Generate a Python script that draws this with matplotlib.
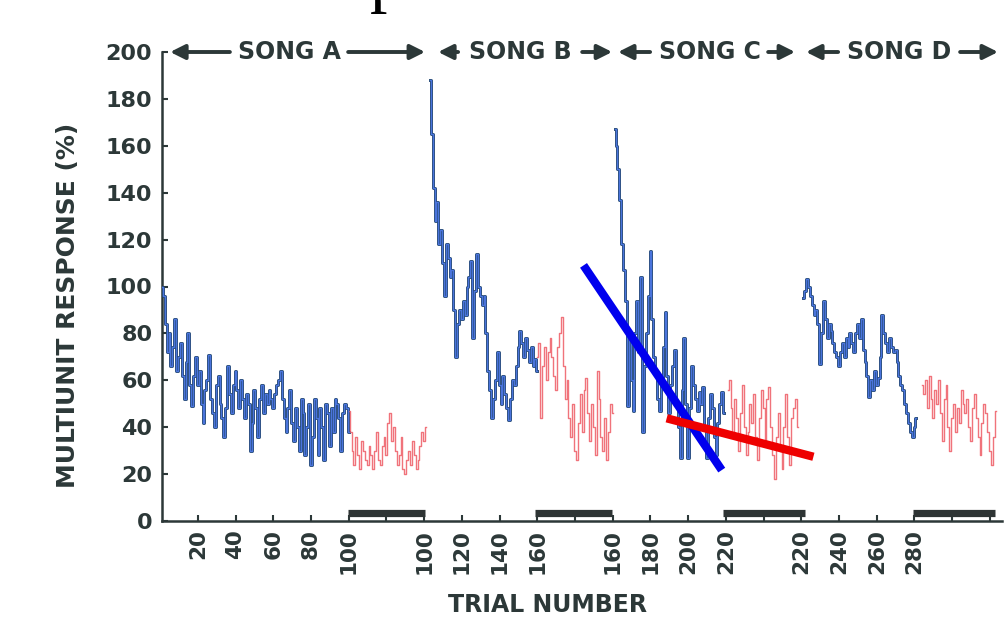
import numpy as np
import matplotlib
matplotlib.use("Agg")
import matplotlib.pyplot as plt

# ---------------- data ----------------
# blue = response during song presentation, red = interleaved silent blocks
song_a = [100, 96, 84, 72, 80, 66, 74, 86, 64, 70,
          76, 62, 52, 68, 80, 58, 49, 62, 70, 58,
          64, 50, 42, 56, 60, 71, 52, 46, 40, 58,
          62, 50, 44, 36, 48, 66, 54, 46, 58, 64,
          56, 48, 60, 52, 44, 54, 50, 30, 42, 56,
          48, 36, 52, 58, 46, 54, 50, 56, 52, 48,
          54, 58, 60, 64, 52, 44, 38, 48, 56, 42,
          34, 48, 40, 30, 52, 46, 28, 40, 50, 24,
          36, 52, 44, 28, 48, 40, 26, 50, 46, 32,
          48, 38, 52, 50, 44, 30, 46, 50, 48, 38]
silent_a = [47, 38, 30, 24, 36, 28, 22, 34, 30, 26, 24, 32, 28, 22, 30, 38,
            26, 24, 32, 36, 28, 42, 46, 34, 40, 30, 24, 28, 36, 22, 20, 26,
            30, 24, 34, 28, 22, 26, 32, 38, 34, 40]
song_b = [188, 165, 142, 128, 136, 118, 124, 110, 96, 118, 112, 104, 107, 90,
          70, 84, 90, 86, 94, 88, 100, 104, 111, 78, 98, 114, 100, 96, 92, 96,
          80, 64, 56, 44, 52, 60, 72, 58, 50, 62, 54, 48, 43, 52, 60, 58, 66,
          74, 81, 76, 70, 78, 73, 68, 74, 66, 69, 64]
silent_b = [70, 76, 44, 66, 74, 60, 72, 78, 70, 62, 56, 74, 80, 87, 66, 52,
            60, 44, 36, 50, 30, 26, 42, 54, 38, 56, 61, 46, 34, 50, 40, 28,
            64, 52, 36, 30, 44, 26, 38, 50, 46]
song_c = [167, 160, 150, 137, 118, 107, 94, 49, 78, 60, 47, 80, 94, 72, 104,
          38, 66, 80, 96, 115, 86, 70, 63, 52, 47, 60, 74, 89, 62, 46, 58, 66,
          73, 50, 40, 27, 56, 78, 50, 27, 48, 66, 58, 52, 47, 55, 50, 57, 40,
          27, 44, 54, 48, 36, 28, 42, 50, 55, 46]
silent_c = [56, 60, 48, 36, 52, 44, 30, 46, 58, 40, 28, 38, 50, 42, 54, 36,
            26, 44, 56, 48, 34, 52, 57, 40, 28, 18, 36, 46, 30, 22, 40, 54,
            36, 24, 44, 48, 52, 40]
song_d = [95, 98, 103, 100, 96, 92, 88, 90, 84, 67, 80, 94, 86, 78, 84, 81,
          76, 72, 70, 66, 72, 76, 70, 78, 74, 80, 76, 72, 80, 84, 78, 86, 73,
          68, 62, 53, 60, 56, 64, 58, 61, 70, 88, 80, 76, 72, 78, 74, 72, 73,
          68, 62, 58, 56, 50, 46, 42, 38, 36, 40, 44]
silent_d = [58, 54, 60, 48, 62, 52, 44, 56, 50, 60, 46, 34, 52, 58, 40, 30,
            44, 50, 38, 48, 42, 56, 50, 46, 52, 40, 34, 48, 54, 44, 36, 28,
            42, 50, 46, 38, 30, 24, 36, 47]

# start position (plot units) of each block on the concatenated axis
song_starts = [1, 143, 241, 341]
silent_starts = [100, 200, 301, 404]

# regression lines drawn over song C: (x0, y0, x1, y1)
fit_blue = [224.5, 109, 297.8, 21.7]
fit_red = [268.6, 43.8, 346.4, 27.4]

# silent-block bars at the bottom
silent_spans = [(99.5, 140.5), (199, 239.7), (298.5, 342), (399, 442.7)]

tick_pos = [20, 40, 60, 80, 100, 120, 140, 160, 180, 200, 220,
            240, 260, 280, 300, 320, 340, 360, 380, 400, 420, 440]
tick_labels = ["20", "40", "60", "80", "100", "", "100", "120", "140", "160", "",
               "160", "180", "200", "220", "", "220", "240", "260", "280", "", ""]

song_names = ["SONG A", "SONG B", "SONG C", "SONG D"]
song_text_x = [68.4, 191, 291.6, 392]
song_arrows = [(37, 5.3, 99.7, 140.5), (158, 147.4, 223.8, 239.7),
               (259.8, 242.8, 322.4, 336.7), (359.5, 342.5, 424.2, 444.3)]

# ---------------- figure ----------------
dark = "#2c3838"
fig = plt.figure(figsize=(10.07, 6.25), dpi=100)
ax = fig.add_axes([162 / 1007, 104 / 625, (1002 - 162) / 1007, 469 / 625])
ax.set_xlim(1, 446.4)
ax.set_ylim(0, 200)

for vals, st in zip([song_a, song_b, song_c, song_d], song_starts):
    x = st + np.arange(len(vals))
    ax.plot(x, vals, color="#22466e", lw=2.1, drawstyle="steps-mid", zorder=3)
    ax.plot(x, vals, color="#4a74dc", lw=1.0, drawstyle="steps-mid", zorder=4)

for vals, st in zip([silent_a, silent_b, silent_c, silent_d], silent_starts):
    x = st + np.arange(len(vals))
    ax.plot(x, vals, color="#ee5a64", lw=1.0, alpha=0.85,
            drawstyle="steps-mid", zorder=3)

ax.plot(fit_blue[0::2], fit_blue[1::2], color="#0000ee", lw=6,
        solid_capstyle="butt", zorder=6)
ax.plot(fit_red[0::2], fit_red[1::2], color="#ee0000", lw=6,
        solid_capstyle="butt", zorder=6)

for a, b in silent_spans:
    ax.plot([a, b], [3.3, 3.3], color="#2e3434", lw=5.2,
            solid_capstyle="butt", zorder=5)

# spines / ticks
for s in ["top", "right"]:
    ax.spines[s].set_visible(False)
for s in ["left", "bottom"]:
    ax.spines[s].set_color(dark)
    ax.spines[s].set_linewidth(1.8)

ax.set_yticks(np.arange(0, 201, 20))
ax.set_xticks(tick_pos)
ax.set_xticklabels(tick_labels, rotation=90)
ax.tick_params(axis="both", direction="in", length=4, width=1.5, color=dark,
               labelcolor=dark)
ax.tick_params(axis="y", pad=7, labelsize=16)
ax.tick_params(axis="x", pad=6, labelsize=15.5)
for lab in ax.get_xticklabels() + ax.get_yticklabels():
    lab.set_fontweight("bold")

# song labels with arrows along the top
for name, tx, (la0, la1, ra0, ra1) in zip(song_names, song_text_x, song_arrows):
    ax.text(tx, 200, name, ha="center", va="center", fontsize=17,
            fontweight="bold", color=dark, clip_on=False)
    for x0, x1 in [(la0, la1), (ra0, ra1)]:
        ax.annotate("", xy=(x1, 200), xytext=(x0, 200), annotation_clip=False,
                    arrowprops=dict(arrowstyle="-|>", color=dark, lw=2.8,
                                    mutation_scale=22, shrinkA=0, shrinkB=0))

fig.text(548 / 1007, 1 - 605 / 625, "TRIAL NUMBER", ha="center", va="center",
         fontsize=17, fontweight="bold", color=dark)
fig.text(68 / 1007, 1 - 305 / 625, "MULTIUNIT RESPONSE (%)", ha="center",
         va="center", rotation=90, fontsize=18, fontweight="bold", color=dark)

# descender of a cut-off title at the very top (only its tail is visible)
fig.text(387 / 1007, 1 + 1 / 625, "p", ha="center", va="baseline",
         fontsize=50, family="Liberation Serif", color="black")

fig.savefig("out.png", dpi=100)
